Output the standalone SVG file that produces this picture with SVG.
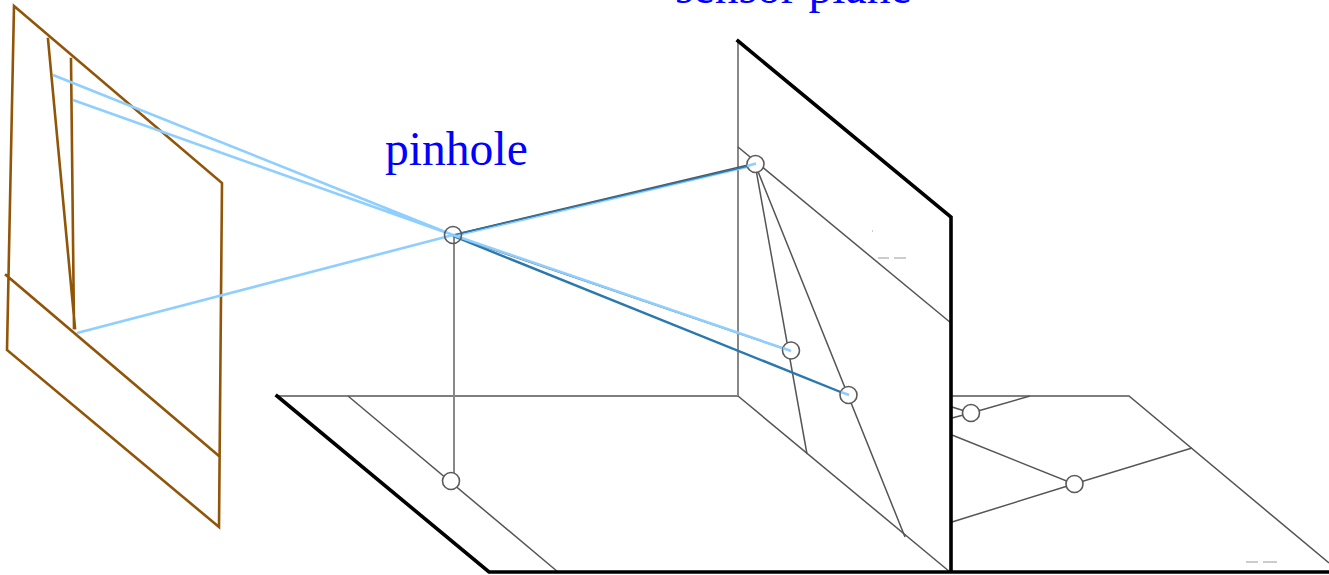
<svg xmlns="http://www.w3.org/2000/svg" width="1329" height="575" viewBox="0 0 1329 575">
<style>
.b{fill:none;stroke:#915508;stroke-width:2.6;stroke-linecap:square}
.l{fill:none;stroke:#8fcfff;stroke-width:2.6}
.d{fill:none;stroke:#2a78ad;stroke-width:2.4}
.g{fill:none;stroke:#555;stroke-width:1.5}
.v{fill:none;stroke:#888;stroke-width:2}
.k{fill:none;stroke:#000;stroke-width:3.6;stroke-linecap:square}
.f{fill:none;stroke:#999;stroke-width:1}
.c{fill:#fff;stroke:#5a5a5a;stroke-width:1.6}
.t{font-family:"Liberation Serif","Times New Roman",serif;font-size:47.6px;fill:#0000ff}
</style>
<g id="connectors">
<g id="floor-wall">
<path class="g" d="M277 396H738M951 396H1129L1329 563"/>
<path class="g" d="M348 396L558 572"/>
<path class="v" d="M738 41V396"/>
<path class="g" d="M738 396L950 572"/>
<path class="g" d="M738 147L951 323"/>
<path class="v" d="M454 235V481"/>
<path class="g" d="M755 164L807 454M755 164L905 537"/>
<path class="g" d="M952 407L971 413M952 418L971 413L1030 396"/>
<path class="g" d="M952 435L1074 484L1192 448M952 522L1074 484"/>
<path class="k" d="M738 41L951 217V572M277 396L489 572H1329"/>
<path class="f" d="M878 258H889M894 258H906M1246 562H1258M1263 562H1277M872 231h1"/>
</g>
<g id="object">
<path class="b" d="M14 6L222 183L219 527L7 350ZM6 275L219 456M48 39L75 328M71 59L74 328"/>
</g>
<g id="rays">
<path class="g" d="M453 236L785 349"/>
<path class="l" d="M53 75L453 235M73 100L453 235M77 333L453 235"/>
<path class="l" d="M453 236L755 165"/>
<path class="g" d="M461 233L748 165"/>
<path class="d" style="stroke-width:1.3" d="M453 235L755 164.500"/>
<path class="d" d="M453 236L848 395"/>
<path class="l" d="M453 235L791 351"/>
</g>
</g>
<g id="node-pinhole"><circle class="c" cx="453" cy="235" r="8.500" fill-opacity="0"/></g>
<g id="node-floor"><circle class="c" cx="451" cy="481" r="8.500"/></g>
<g id="node-image-top"><circle class="c" cx="755.500" cy="164" r="8.500"/><path class="l" d="M747 166L756 163.500"/></g>
<g id="node-image-mid"><circle class="c" cx="791" cy="350.500" r="8.500"/><path class="l" d="M783 348L791 351"/></g>
<g id="node-image-low"><circle class="c" cx="848.500" cy="395" r="8.500"/><path class="l" d="M841 392L849 395"/></g>
<g id="node-right-a"><circle class="c" cx="971" cy="413" r="8.500"/></g>
<g id="node-right-b"><circle class="c" cx="1074.500" cy="484" r="8.500"/></g>
<text id="label-sensor" class="t" x="675" y="3">sensor plane</text>
<text id="label-pinhole" class="t" x="385" y="165">pinhole</text>
</svg>
